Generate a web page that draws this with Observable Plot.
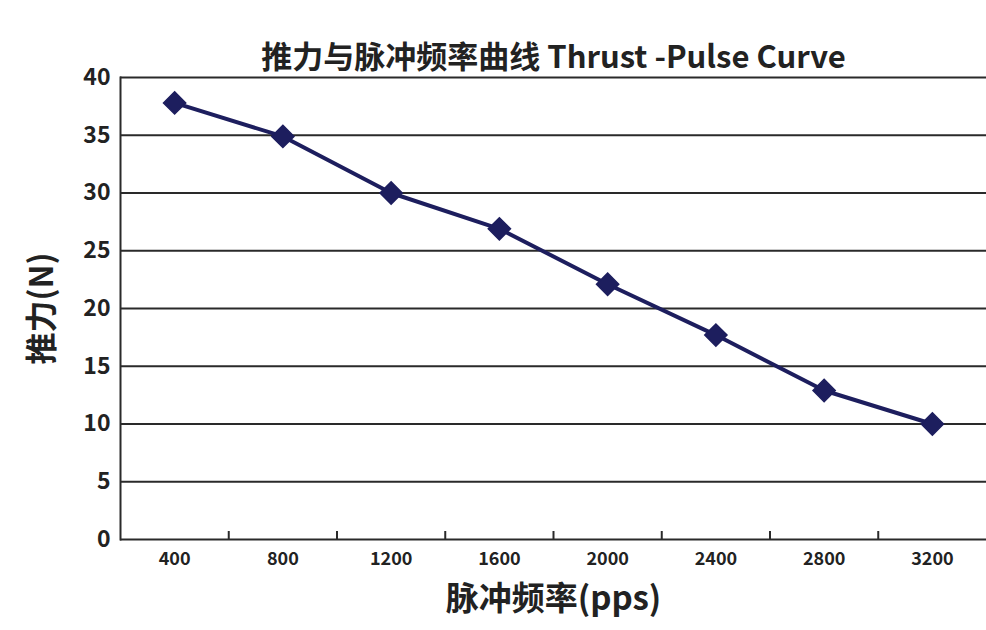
<!DOCTYPE html>
<html>
<head>
<meta charset="utf-8">
<script src="https://cdn.jsdelivr.net/npm/d3@7"></script>
<script src="https://cdn.jsdelivr.net/npm/@observablehq/plot@0.6"></script>
<style>
  html, body { margin: 0; padding: 0; background: #fff; }
  svg { display: block; }
</style>
</head>
<body>
<div id="chart"></div>
<script>
const titleText = "推力与脉冲频率曲线 Thrust -Pulse Curve";
const xLabel = "脉冲频率(pps)";
const yLabel = "推力(N)";
const frequencies = [400, 800, 1200, 1600, 2000, 2400, 2800, 3200];
const thrust = [37.8, 34.9, 30.0, 26.9, 22.1, 17.7, 12.9, 10.0];
const yTicks = [0, 5, 10, 15, 20, 25, 30, 35, 40];
const boundaryTicks = [600, 1000, 1400, 1800, 2200, 2600, 3000];

const data = frequencies.map((f, i) => ({f, t: thrust[i]}));
const ink = "#222";
const navy = "#1d1e5e";
const font = "'Noto Sans CJK SC', 'Noto Sans', sans-serif";

const chart = Plot.plot({
  width: 986,
  height: 630,
  marginLeft: 120,
  marginRight: 0,
  marginTop: 77,
  marginBottom: 91,
  style: {fontFamily: font, color: ink, background: "#fff"},
  x: {type: "linear", domain: [200, 3400]},
  y: {domain: [0, 40]},
  marks: [
    Plot.gridY(yTicks, {stroke: "#2a2a2a", strokeOpacity: 1, strokeWidth: 2}),
    Plot.frame({anchor: "left", stroke: "#2a2a2a", strokeWidth: 2}),
    Plot.axisY({ticks: yTicks, tickSize: 0, tickPadding: 10, label: null,
      fontSize: 23, fontWeight: "bold", fill: ink}),
    Plot.axisX({ticks: frequencies, tickSize: 0, tickPadding: 13, label: null,
      tickFormat: d => String(d), fontSize: 18, fontWeight: "bold", fill: ink}),
    Plot.axisX({ticks: boundaryTicks, tickSize: -8, tickFormat: () => "", label: null,
      stroke: "#2a2a2a", strokeWidth: 2}),
    Plot.line(data, {x: "f", y: "t", stroke: navy, strokeWidth: 4}),
    Plot.dot(data, {x: "f", y: "t", symbol: "diamond2", r: 10, fill: navy, stroke: navy}),
    Plot.text([titleText], {frameAnchor: "top", dy: -32, fontSize: 31, fontWeight: "bold", fill: ink}),
    Plot.text([xLabel], {frameAnchor: "bottom", dy: 70, fontSize: 33, fontWeight: "bold", fill: ink}),
    Plot.text([yLabel], {frameAnchor: "left", textAnchor: "middle", dx: -78, rotate: -90, fontSize: 32, fontWeight: "bold", fill: ink})
  ]
});
document.getElementById("chart").append(chart);
</script>
</body>
</html>
